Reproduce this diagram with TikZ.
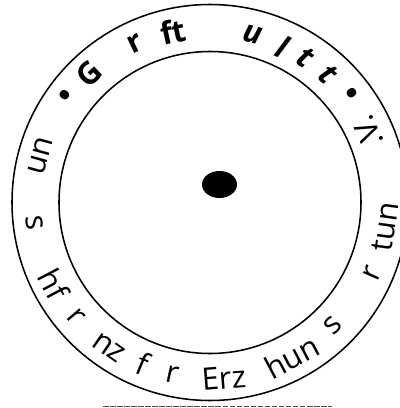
\documentclass[tikz,border=0pt]{standalone}
\usepackage{fontspec}
\setmainfont{Open Sans}
\usetikzlibrary{
    calc,
    positioning
}
\tikzset{
  ring/.style={
    black,
    line width=1.1pt
  },
  oben/.style={
    font=\fontsize{22}{24}\selectfont\bfseries,
    inner sep=0pt
  },
  obenit/.style={
    oben,
    font=\fontsize{22}{24}\selectfont\bfseries\itshape
  },
  unten/.style={
    font=\fontsize{22}{24}\selectfont,
    inner sep=0pt
  }
}

\begin{document}
\begin{tikzpicture}[x=0.025cm,y=0.025cm]
    \useasboundingbox (-210,-205.5) rectangle (190,202.5);
    \clip (-210,-205.5) rectangle (190,202.5);
    \coordinate (O) at (0,0);

    % 円
    \draw[ring] (O) circle [radius=198];
    \draw[ring] (O) circle [radius=151];
    \fill (9.5,18) ellipse [x radius=17.5, y radius=13.5];

    % 上の文字
    \node[oben,rotate=53.6] (p1) at (143.6:177) {\textbullet};
    \node[oben,rotate=43.3] (g) at (133.3:177) {G};
    \node[oben,rotate=25.2] (r1) at (115.2:176) {r};
    \node[oben,rotate=12.2] (ft) at (102.2:175) {ft};
    \node[obenit,rotate=-14.1] (u) at (75.9:173) {u};
    \node[obenit,rotate=-24.8] (l) at (65.2:172) {l};
    \node[obenit,rotate=-33.3] (t1) at (56.7:173) {t};
    \node[obenit,rotate=-42.8] (t2) at (47.2:174) {t};
    \node[oben,rotate=-52.3] (p2) at (37.7:176) {\textbullet};

    % 下の文字
    \node[unten,rotate=114.2] (v) at (24.2:173) {.V.};
    \node[unten,rotate=254.6] (un1) at (164.6:176) {un};
    \node[unten,rotate=276.6] (s1) at (186.6:177) {s};
    \node[unten,rotate=297.7] (hf) at (207.7:176) {hf};
    \node[unten,rotate=310.5] (r2) at (220.5:176) {r};
    \node[unten,rotate=325.1] (nz) at (235.1:177) {nz};
    \node[unten,rotate=337.3] (f) at (247.3:175) {f};
    \node[unten,rotate=347.7] (r3) at (257.7:176) {r};
    \node[unten,rotate=364.5] (erz) at (274.5:176) {Erz};
    \node[unten,rotate=387.9] (hun) at (297.9:175) {hun};
    \node[unten,rotate=405.1] (s2) at (315.1:174) {s};
    \node[unten,rotate=426.3] (r4) at (336.3:177) {r};
    \node[unten,rotate=442.2] (tun) at (352.2:177) {tun};

    % 下の線
    \coordinate (a) at (-107,-203.5);
    \coordinate (b) at (122,-203.5);
    \draw[black!70,line width=0.7pt,dash pattern=on 4pt off 1pt] (a) -- (b);
\end{tikzpicture}
\end{document}
